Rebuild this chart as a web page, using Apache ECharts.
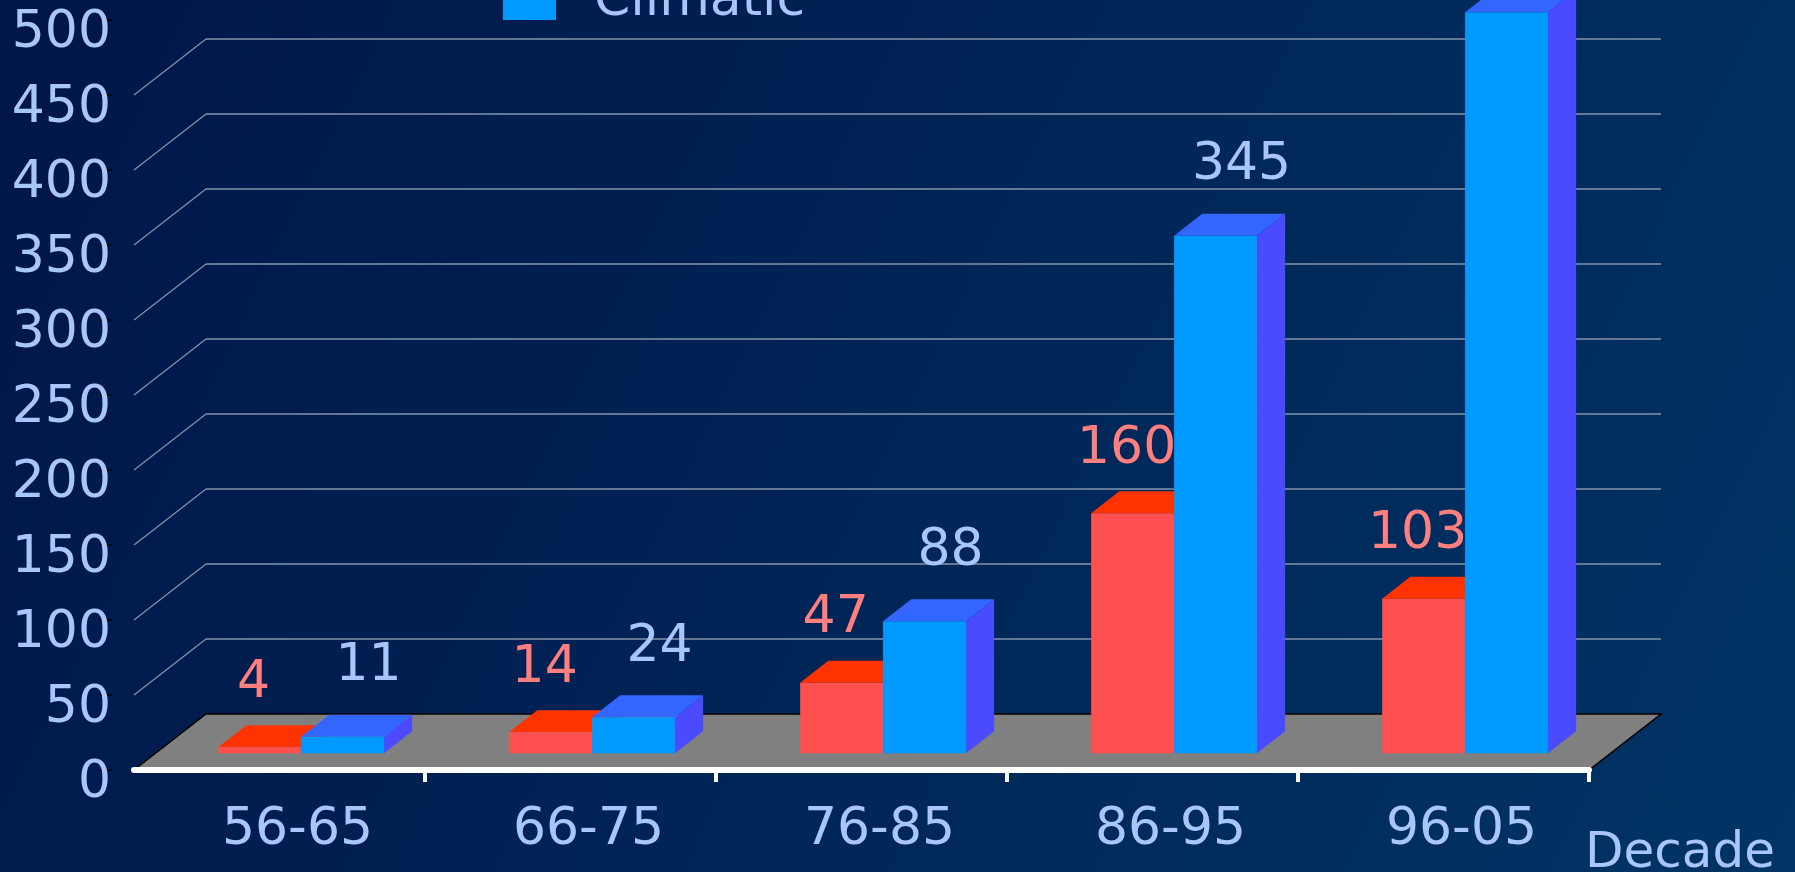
<!DOCTYPE html>
<html>
<head>
    <meta charset="utf-8">
    <script src="https://cdn.jsdelivr.net/npm/echarts@6/dist/echarts.min.js"></script>
    <style>
        html, body { margin: 0; padding: 0; }
        #main { width: 1795px; height: 872px; }
    </style>
</head>
<body>
<div id="main"></div>

<script type="text/javascript">
    // decades and number of events per type
    var categories = ['56-65', '66-75', '76-85', '86-95', '96-05'];
    var geophysical = [4, 14, 47, 160, 103];
    var climatic = [11, 24, 88, 345, 494];
    var wallLevels = [50, 100, 150, 200, 250, 300, 350, 400, 450, 500];

    // fake 3d: offset from front plane to back wall, bars sit between F0 and F1 of the depth
    var DX = 72, DY = -56;
    var F0 = 0.3, F1 = 0.69;
    var BAR_FRAC = 0.285;
    var FONT = 'DejaVu Sans';
    var TXT = '#a9c6fb';
    var GRID = '#8394ac';

    function barRender(side, front, top, sideColor, labelColor, labelDx, labelDy) {
        return function (params, api) {
            var i = api.value(0), v = api.value(1);
            var bw = api.size([1, 0])[0] * BAR_FRAC;
            var c0 = api.coord([i, 0]), c1 = api.coord([i, v]);
            var xl = c0[0] + (side === 0 ? -bw : 0) + DX * F0;
            var xr = xl + bw;
            var yb = c0[1] + DY * F0;
            var yt = c1[1] + DY * F0;
            var ddx = DX * (F1 - F0), ddy = DY * (F1 - F0);
            return {
                type: 'group',
                children: [
                    { type: 'polygon', shape: { points: [[xr, yt], [xr + ddx, yt + ddy], [xr + ddx, yb + ddy], [xr, yb]] }, style: { fill: sideColor } },
                    { type: 'polygon', shape: { points: [[xl, yt], [xr, yt], [xr + ddx, yt + ddy], [xl + ddx, yt + ddy]] }, style: { fill: top } },
                    { type: 'rect', shape: { x: xl, y: yt, width: bw, height: yb - yt }, style: { fill: front } },
                    { type: 'text', x: (xl + xr) / 2 + labelDx, y: yt + labelDy,
                      style: { text: String(v), fill: labelColor, font: '52px "' + FONT + '"', align: 'center', verticalAlign: 'middle' } }
                ]
            };
        };
    }

    var myChart = echarts.init(document.getElementById('main'));
    myChart.setOption({
        animation: false,
        backgroundColor: {
            type: 'linear', x: 0, y: 0, x2: 1, y2: 1,
            colorStops: [{ offset: 0, color: '#001548' }, { offset: 1, color: '#003464' }]
        },
        legend: {
            data: ['Geophysical', 'Climatic'],
            orient: 'vertical',
            left: 498,
            top: -104,
            icon: 'rect',
            itemWidth: 53,
            itemHeight: 38,
            itemGap: 10,
            textStyle: { fontSize: 52, fontFamily: FONT, color: TXT, lineHeight: 60, padding: [0, 0, 0, 33] }
        },
        graphic: [{
            type: 'text', x: 1585, y: 854, silent: true,
            style: { text: 'Decade', fill: TXT, font: '50px "' + FONT + '"', align: 'left', verticalAlign: 'middle' }
        }],
        grid: { left: 134, top: 20, width: 1455, height: 750 },
        xAxis: {
            type: 'category', data: categories, z: 4,
            axisLine: { lineStyle: { color: '#ffffff', width: 6 } },
            axisTick: {
                show: true, length: 12, lineStyle: { color: '#ffffff', width: 4 },
                interval: function (index) { return index > 0; }
            },
            axisLabel: { fontSize: 52, fontFamily: FONT, color: TXT, margin: 34, padding: [0, 0, 0, 36] }
        },
        yAxis: {
            type: 'value', min: 0, max: 500, interval: 50, offset: 22,
            axisLine: { show: false },
            axisTick: { show: true, length: 12, lineStyle: { color: '#000000', width: 1.5 } },
            axisLabel: { fontSize: 52, fontFamily: FONT, color: TXT, margin: 1, verticalAlign: 'top', lineHeight: 26 },
            splitLine: { show: false }
        },
        series: [
            {
                // floor
                type: 'custom', z: 1, silent: true,
                data: [[0, 0]],
                renderItem: function (params, api) {
                    var cs = params.coordSys;
                    var yb = cs.y + cs.height;
                    return {
                        type: 'polygon',
                        shape: { points: [[cs.x, yb], [cs.x + cs.width, yb], [cs.x + cs.width + DX, yb + DY], [cs.x + DX, yb + DY]] },
                        style: { fill: '#808080', stroke: '#000000', lineWidth: 1.5 }
                    };
                }
            },
            {
                // back wall and left wall lines
                type: 'custom', z: 0, silent: true,
                data: wallLevels.map(function (v) { return [0, v]; }),
                renderItem: function (params, api) {
                    var cs = params.coordSys;
                    var v = api.value(1);
                    var y = api.coord([0, v])[1];
                    var kids = [{
                        type: 'line',
                        shape: { x1: cs.x + DX, y1: y + DY, x2: cs.x + cs.width + DX, y2: y + DY },
                        style: { stroke: GRID, lineWidth: 1.5 }
                    }];
                    if (v < 500) {
                        kids.push({
                            type: 'line',
                            shape: { x1: cs.x, y1: y, x2: cs.x + DX, y2: y + DY },
                            style: { stroke: GRID, lineWidth: 1.2 }
                        });
                    }
                    return { type: 'group', children: kids };
                }
            },
            {
                name: 'Geophysical', type: 'custom', z: 3,
                itemStyle: { color: '#ff5050' },
                data: geophysical.map(function (v, i) { return [i, v]; }),
                renderItem: barRender(0, '#ff5050', '#ff3300', '#cc2200', '#ff7f7f', -6, -64)
            },
            {
                name: 'Climatic', type: 'custom', z: 3,
                itemStyle: { color: '#0099ff' },
                data: climatic.map(function (v, i) { return [i, v]; }),
                renderItem: barRender(1, '#0099ff', '#3366ff', '#4a4aff', TXT, 26, -70)
            }
        ]
    });
</script>
</body>
</html>
